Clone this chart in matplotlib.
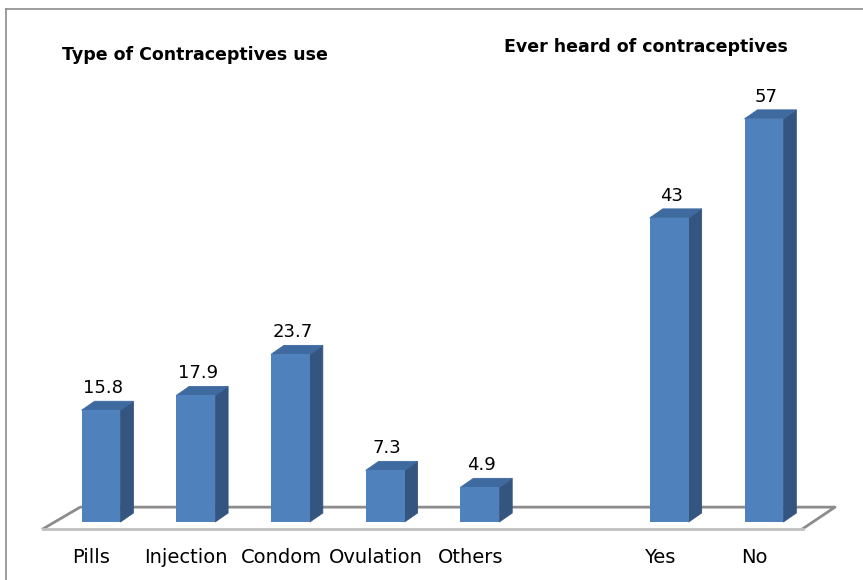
import matplotlib
matplotlib.use('Agg')
import matplotlib.pyplot as plt
from matplotlib.patches import Polygon
from matplotlib.lines import Line2D

# Data.
typeLabels = ['Pills', 'Injection', 'Condom', 'Ovulation', 'Others']
typeValues = [15.8, 17.9, 23.7, 7.3, 4.9]
heardLabels = ['Yes', 'No']
heardValues = [43, 57]

# Slot 5 is left empty as a gap between the two groups.
labels = typeLabels + heardLabels
values = typeValues + heardValues
slots = list(range(len(typeLabels))) + [6, 7]

# Colours.
frontColor = '#4f81bd'
sideColor = '#34557f'
topColor = '#3f6aa0'

# Geometry in data units.
barWidth = 0.41
depthX = 0.137
depthY = 1.27

fig = plt.figure(figsize=(8.63, 5.8), dpi=100)
ax = fig.add_axes([0, 0, 1, 1])
ax.set_xlim(-1.0665, 8.046)
ax.set_ylim(-8.2, 73.8)
ax.axis('off')

# Floor.
ax.add_patch(Polygon([(-0.61, -0.95), (-0.22, 2.1), (7.75, 2.1), (7.41, -0.95)],
                     closed=True, facecolor='white', edgecolor='none', zorder=1))
ax.plot([-0.61, -0.22, 7.75, 7.41], [-0.95, 2.1, 2.1, -0.95],
        color='#8c8c8c', linewidth=2, zorder=2)
ax.plot([-0.61, 7.41], [-0.95, -0.95], color='#c0c0c0', linewidth=2, zorder=2)

# Bars.
for x, v in zip(slots, values):
  left = x - barWidth / 2
  right = x + barWidth / 2
  ax.add_patch(Polygon([(right, 0), (right + depthX, depthY),
                        (right + depthX, v + depthY), (right, v)],
                       closed=True, facecolor=sideColor, edgecolor=sideColor,
                       linewidth=0.6, zorder=3))
  ax.add_patch(Polygon([(left, v), (left + depthX, v + depthY),
                        (right + depthX, v + depthY), (right, v)],
                       closed=True, facecolor=topColor, edgecolor=topColor,
                       linewidth=0.6, zorder=3))
  ax.bar(x, v, width=barWidth, color=frontColor, zorder=4)
  ax.text(x + 0.02, v + depthY + 0.6, '{:g}'.format(v), ha='center', va='bottom',
          fontsize=13, family='DejaVu Sans', color='black', zorder=5)

# Category labels (sit a little left of the bars).
for x, lab in zip(slots, labels):
  ax.text(x - 0.1, -5.0, lab, ha='center', va='center', fontsize=14,
          family='DejaVu Sans', color='black')

# Titles.
fig.text(62 / 863, 1 - 55 / 580, 'Type of Contraceptives use', ha='left', va='center',
         fontsize=12.5, fontweight='bold', family='DejaVu Sans')
fig.text(504 / 863, 1 - 47 / 580, 'Ever heard of contraceptives', ha='left', va='center',
         fontsize=12.5, fontweight='bold', family='DejaVu Sans')

# Outer frame.
fig.add_artist(Line2D([6 / 863, 6 / 863], [0, 1 - 9 / 580], transform=fig.transFigure,
                      color='#8c8c8c', linewidth=1.2))
fig.add_artist(Line2D([6 / 863, 1], [1 - 9 / 580, 1 - 9 / 580], transform=fig.transFigure,
                      color='#8c8c8c', linewidth=1.2))

fig.savefig('out.png', dpi=100)
